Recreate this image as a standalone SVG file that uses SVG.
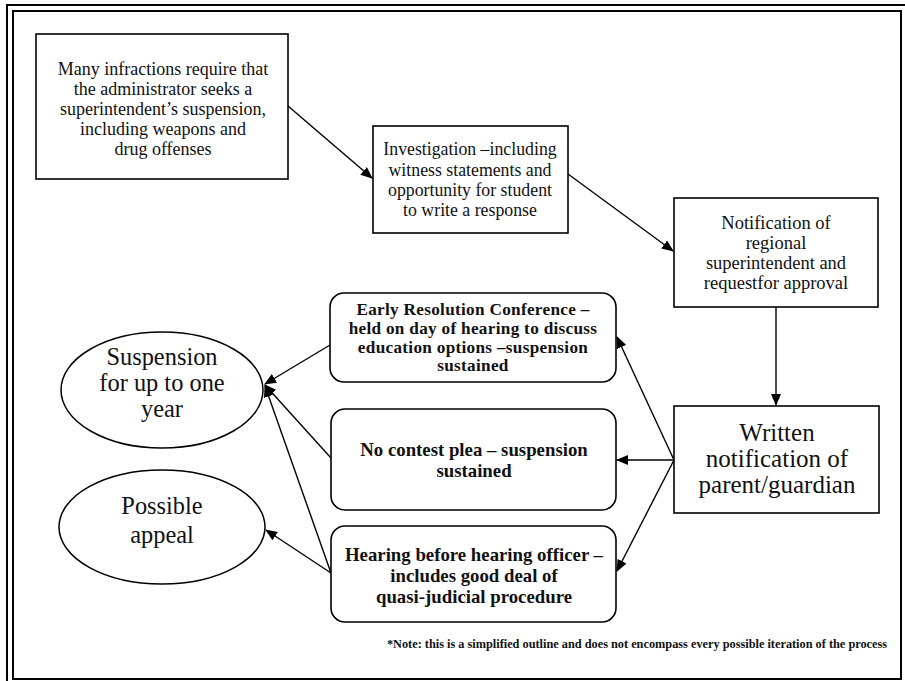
<svg xmlns="http://www.w3.org/2000/svg" width="905" height="681" viewBox="0 0 905 681">
<style>
.frame{fill:none;stroke:#000;stroke-width:2}
.box{fill:#fff;stroke:#000;stroke-width:1.6}
.ell{fill:#fff;stroke:#000;stroke-width:1.5}
.t{font-family:"Liberation Serif","DejaVu Serif",serif;fill:#111;text-anchor:middle}
.b{font-weight:bold}
.conn{fill:none;stroke:#000;stroke-width:1.4}
</style>
<defs>
<marker id="ah" markerWidth="12" markerHeight="10" refX="11" refY="5" orient="auto" markerUnits="userSpaceOnUse">
<path d="M0,0 L12,5 L0,10 Z" fill="#000"/>
</marker>
</defs>
<rect width="905" height="681" fill="#fff"/>
<g id="frame">
<polyline class="frame" points="7,681 7,5 905,5"/>
<rect class="frame" x="13" y="11" width="888" height="668"/>
</g>
<g id="connectors">
<line class="conn" x1="288" y1="106" x2="372" y2="178" marker-end="url(#ah)"/>
<line class="conn" x1="568" y1="174" x2="673" y2="251" marker-end="url(#ah)"/>
<line class="conn" x1="776" y1="307" x2="776" y2="405" marker-end="url(#ah)"/>
<line class="conn" x1="674" y1="460" x2="617" y2="460" marker-end="url(#ah)"/>
<line class="conn" x1="674" y1="460" x2="617" y2="337" marker-end="url(#ah)"/>
<line class="conn" x1="674" y1="460" x2="617" y2="571" marker-end="url(#ah)"/>
<line class="conn" x1="330" y1="345" x2="265" y2="384" marker-end="url(#ah)"/>
<line class="conn" x1="331" y1="458" x2="265" y2="385" marker-end="url(#ah)"/>
<line class="conn" x1="331" y1="573" x2="265" y2="386" marker-end="url(#ah)"/>
<line class="conn" x1="331" y1="573" x2="266" y2="530" marker-end="url(#ah)"/>
</g>
<g id="n1">
<rect class="box" x="36" y="34" width="252" height="145"/>
<text class="t" font-size="18"><tspan x="163" y="75">Many infractions require that</tspan><tspan x="163" y="95">the administrator seeks a</tspan><tspan x="163" y="115">superintendent’s suspension,</tspan><tspan x="163" y="135">including weapons and</tspan><tspan x="163" y="155">drug offenses</tspan></text>
</g>
<g id="n2">
<rect class="box" x="373" y="126" width="195" height="107"/>
<text class="t" font-size="17.8"><tspan x="470" y="155">Investigation –including</tspan><tspan x="470" y="176">witness statements and</tspan><tspan x="470" y="196">opportunity for student</tspan><tspan x="470" y="216">to write a response</tspan></text>
</g>
<g id="n3">
<rect class="box" x="674" y="198" width="204" height="109"/>
<text class="t" font-size="18.5"><tspan x="776" y="229">Notification of</tspan><tspan x="776" y="249">regional</tspan><tspan x="776" y="269">superintendent and</tspan><tspan x="776" y="289">requestfor approval</tspan></text>
</g>
<g id="n4">
<rect class="box" x="674" y="406" width="205" height="107"/>
<text class="t" font-size="25"><tspan x="777" y="441">Written</tspan><tspan x="777" y="467">notification of</tspan><tspan x="777" y="493">parent/guardian</tspan></text>
</g>
<g id="n5">
<rect class="box" x="330" y="293" width="286" height="89" rx="14"/>
<text class="t b" font-size="17.2" letter-spacing="0.3"><tspan x="473" y="315">Early Resolution Conference –</tspan><tspan x="473" y="334">held on day of hearing to discuss</tspan><tspan x="473" y="353">education options –suspension</tspan><tspan x="473" y="371">sustained</tspan></text>
</g>
<g id="n6">
<rect class="box" x="331" y="409" width="285" height="101" rx="14"/>
<text class="t b" font-size="18.8"><tspan x="474" y="456">No contest plea – suspension</tspan><tspan x="474" y="477">sustained</tspan></text>
</g>
<g id="n7">
<rect class="box" x="331" y="526" width="285" height="96" rx="14"/>
<text class="t b" font-size="18.8"><tspan x="474" y="561">Hearing before hearing officer –</tspan><tspan x="474" y="582">includes good deal of</tspan><tspan x="474" y="603">quasi-judicial procedure</tspan></text>
</g>
<g id="n8">
<ellipse class="ell" cx="162" cy="390" rx="101" ry="58"/>
<text class="t" font-size="24.4"><tspan x="162" y="365">Suspension</tspan><tspan x="162" y="391">for up to one</tspan><tspan x="162" y="417">year</tspan></text>
</g>
<g id="n9">
<ellipse class="ell" cx="162" cy="527" rx="103" ry="57"/>
<text class="t" font-size="24.4"><tspan x="162" y="514">Possible</tspan><tspan x="162" y="543">appeal</tspan></text>
</g>
<g id="note">
<text class="t b" font-size="12.3" x="637" y="648">*Note: this is a simplified outline and does not encompass every possible iteration of the process</text>
</g>
</svg>
